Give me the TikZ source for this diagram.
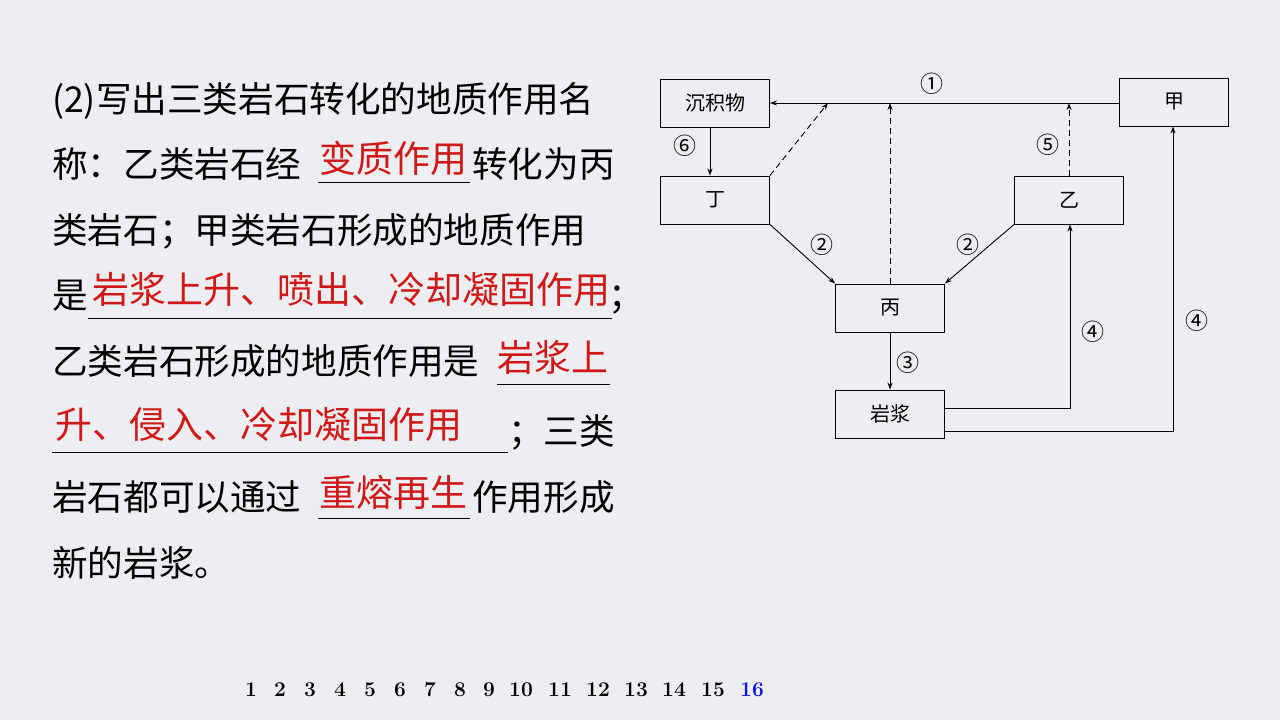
\documentclass[tikz,border=0pt]{standalone}
\usepackage{fontspec}
\newfontfamily\cjk{Noto Sans CJK SC}
\usetikzlibrary{arrows.meta}
\definecolor{bg}{HTML}{EDEEF1}
\definecolor{ans}{HTML}{D01818}
\definecolor{pg}{HTML}{1010F0}
\begin{document}
\begin{tikzpicture}[x=1pt,y=-1pt,
  box/.style={draw,line width=0.9pt,minimum width=109pt,minimum height=48pt,inner sep=0,font=\cjk\fontsize{20}{24}\selectfont},
  lab/.style={font=\cjk\fontsize{23}{26}\selectfont,inner sep=0},
  con/.style={line width=0.9pt,-{Stealth[length=7pt,width=5pt]}},
  dcon/.style={con,dashed,dash pattern=on 6pt off 4pt},
  txt/.style={anchor=base west,inner sep=0,font=\cjk\fontsize{35.6}{40}\selectfont},
  rtxt/.style={txt,text=ans,font=\cjk\fontsize{37}{40}\selectfont},
  ul/.style={line width=0.6pt},
  pn/.style={font=\bfseries\fontsize{21}{22}\selectfont,inner sep=0}]
\fill[bg] (0,0) rectangle (1280,720);
\useasboundingbox (0,0) rectangle (1280,720);
% diagram
\node[box] (sed) at (715,103) {沉积物};
\node[box] (jia) at (1174,102) {甲};
\node[box] (ding) at (715,200) {丁};
\node[box] (yi) at (1069,200) {乙};
\node[box] (bing) at (890,308) {丙};
\node[box] (mag) at (890,414) {岩浆};
\coordinate (c1) at (828,103);
\coordinate (c2) at (890,103);
\coordinate (c3) at (1069,103);
\coordinate (m1) at (1070,408);
\coordinate (m2) at (1173,431);
\draw[con] (jia.west |- 0,103) -- (sed.east);
\draw[dcon] (ding.north east) -- (c1);
\draw[dcon] (bing.north) -- (c2);
\draw[dcon] (yi.north) -- (c3);
\draw[con] (sed.south -| 710,0) -- (ding.north -| 710,0);
\draw[con] (ding.south east) -- (bing.north west);
\draw[con] (yi.south west) -- (bing.north east);
\draw[con] (bing.south) -- (mag.north);
\draw[con] (mag.east |- m1) -- (m1) -- (yi.south -| m1);
\draw[con] (mag.east |- m2) -- (m2) -- (jia.south -| m2);
\node[lab] (l1) at (932,84) {①};
\node[lab] (l6) at (685,146) {⑥};
\node[lab] (l5) at (1048,145) {⑤};
\node[lab] (l2a) at (822,245) {②};
\node[lab] (l2b) at (968,245) {②};
\node[lab] (l3) at (908,363) {③};
\node[lab] (l4a) at (1093,332) {④};
\node[lab] (l4b) at (1197,321) {④};
% text
\node[txt] (t1) at (52,112) {(2)写出三类岩石转化的地质作用名};
\node[txt] (t2a) at (52,177) {称：乙类岩石经};
\node[rtxt] (t2b) at (319,172) {变质作用};
\node[txt] (t2c) at (472,177) {转化为丙};
\node[txt] (t3) at (52,243) {类岩石；甲类岩石形成的地质作用};
\node[txt] (t4a) at (52,308) {是};
\node[rtxt] (t4b) at (92,303) {岩浆上升、喷出、冷却凝固作用};
\node[txt] (t4c) at (608,308) {；};
\node[txt] (t5a) at (52,374) {乙类岩石形成的地质作用是};
\node[rtxt] (t5b) at (497,371) {岩浆上};
\node[rtxt] (t6a) at (55,438) {升、侵入、冷却凝固作用};
\node[txt] (t6b) at (508,444) {；三类};
\node[txt] (t7a) at (52,510) {岩石都可以通过};
\node[rtxt] (t7b) at (319,506) {重熔再生};
\node[txt] (t7c) at (472,510) {作用形成};
\node[txt] (t8) at (52,576) {新的岩浆。};
\draw[ul] (318,182) -- (470,182);
\draw[ul] (88,318) -- (612,318);
\draw[ul] (497,384) -- (610,384);
\draw[ul] (52,452) -- (508,452);
\draw[ul] (318,518) -- (470,518);
% page numbers
\foreach \n/\x in {1/251,2/280,3/310,4/340,5/370,6/400,7/430,8/460,9/489,10/521,11/560,12/598,13/636,14/674,15/713}
  \node[pn] (p\n) at (\x,690) {\n};
\node[pn,text=pg] (p16) at (752,690) {16};
\end{tikzpicture}
\end{document}
